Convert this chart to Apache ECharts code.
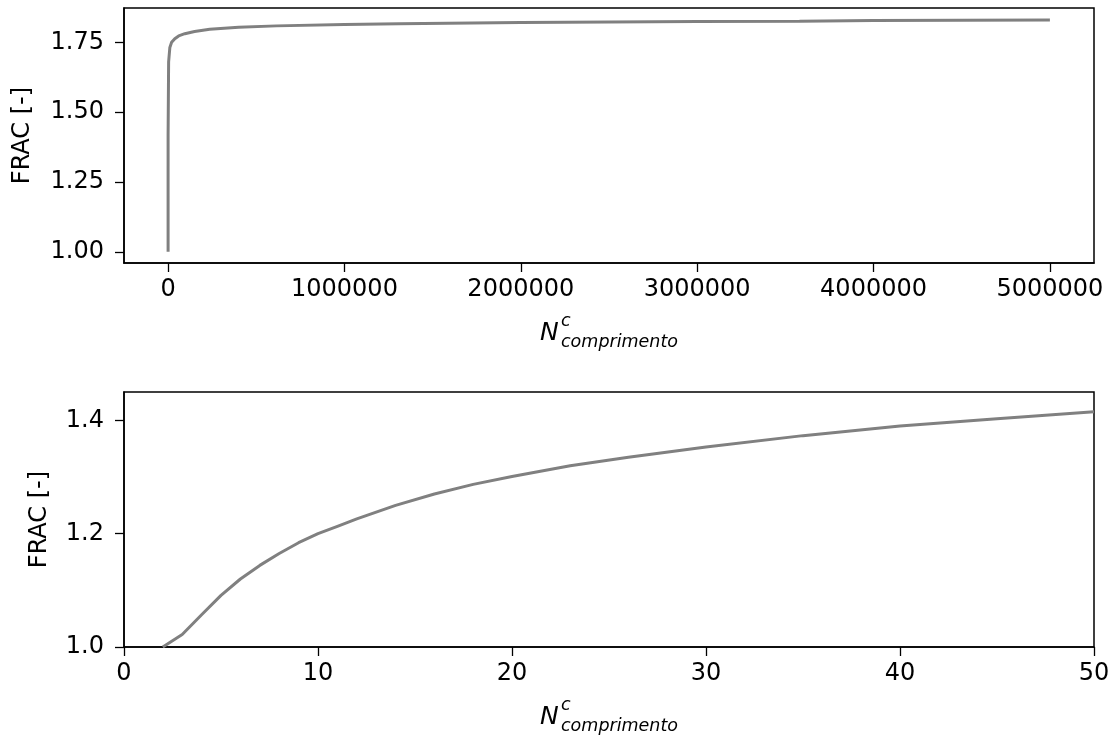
<!DOCTYPE html>
<html>
<head>
<meta charset="utf-8">
<script src="https://cdn.jsdelivr.net/npm/echarts@6/dist/echarts.min.js"></script>
<style>
  html, body { margin: 0; padding: 0; background: #fff; }
  #chart { width: 1113px; height: 735px; }
</style>
</head>
<body>
<div id="chart"></div>
<script>
// top panel: whole run, N from 0 to 5e6
const topN = [2, 10, 50, 3000, 10000, 20000, 38000, 60000, 95000, 150000, 236000, 400000, 614000, 1000000, 1310000, 2000000, 3000000, 3580000, 4000000, 5000000]
const topFrac = [1.0, 1.2, 1.415, 1.68, 1.732, 1.75, 1.763, 1.773, 1.781, 1.789, 1.797, 1.804, 1.809, 1.814, 1.817, 1.821, 1.825, 1.826, 1.828, 1.830]
const topXTicks = [0, 1000000, 2000000, 3000000, 4000000, 5000000]
const topYTicks = [1.0, 1.25, 1.5, 1.75]

// bottom panel: first 50 cycles
const botN = [2, 3, 4, 5, 6, 7, 8, 9, 10, 11, 12, 14, 16, 18, 20, 23, 26, 30, 35, 40, 45, 50]
const botFrac = [1.0, 1.022, 1.057, 1.091, 1.12, 1.144, 1.165, 1.184, 1.2, 1.213, 1.226, 1.25, 1.27, 1.287, 1.301, 1.32, 1.335, 1.353, 1.373, 1.39, 1.403, 1.415]
const botYTicks = [1.0, 1.2, 1.4]

const FONT = 'DejaVu Sans'
const LEFT = 124
const RIGHT = 19
const TOP1 = 8, H1 = 255
const TOP2 = 392, H2 = 255
const W = 1113 - LEFT - RIGHT

const chart = echarts.init(document.getElementById('chart'))

function xAxisBase(gridIndex) {
  return {
    type: 'value',
    gridIndex: gridIndex,
    splitLine: { show: false },
    axisLine: { show: true, onZero: false, lineStyle: { color: '#000', width: 1.5 } },
    axisTick: { show: true, length: 9, lineStyle: { color: '#000', width: 1.3 } },
    axisLabel: { color: '#000', fontFamily: FONT, fontSize: 24, margin: 15 }
  }
}
function yAxisBase(gridIndex) {
  return {
    type: 'value',
    gridIndex: gridIndex,
    splitLine: { show: false },
    axisLine: { show: true, onZero: false, lineStyle: { color: '#000', width: 1.5 } },
    axisTick: { show: true, length: 9, lineStyle: { color: '#000', width: 1.3 } },
    axisLabel: { color: '#000', fontFamily: FONT, fontSize: 24, margin: 20 },
    name: 'FRAC [-]',
    nameLocation: 'middle',
    nameTextStyle: { color: '#000', fontFamily: FONT, fontSize: 24 }
  }
}

// x label N^c_comprimento drawn as three texts
function xLabel(axisY) {
  const cx = LEFT + W / 2
  const nx = cx - 69
  const it = 'italic'
  return [
    { type: 'text', x: nx, y: axisY + 70, silent: true,
      style: { text: 'N', font: it + ' 25px "' + FONT + '"', fill: '#000', verticalAlign: 'middle' } },
    { type: 'text', x: nx + 21, y: axisY + 58, silent: true,
      style: { text: 'c', font: it + ' 17.5px "' + FONT + '"', fill: '#000', verticalAlign: 'middle' } },
    { type: 'text', x: nx + 21, y: axisY + 79, silent: true,
      style: { text: 'comprimento', font: it + ' 17.5px "' + FONT + '"', fill: '#000', verticalAlign: 'middle' } }
  ]
}

const x0 = xAxisBase(0)
x0.min = -250000
x0.max = 5250000
x0.axisTick.customValues = topXTicks
x0.axisLabel.customValues = topXTicks
x0.axisLabel.formatter = v => String(v)

const y0 = yAxisBase(0)
y0.min = 0.96
y0.max = 1.873
y0.axisTick.customValues = topYTicks
y0.axisLabel.customValues = topYTicks
y0.axisLabel.formatter = v => v.toFixed(2)
y0.nameGap = 89

const x1 = xAxisBase(1)
x1.min = 0
x1.max = 50
x1.interval = 10

const y1 = yAxisBase(1)
y1.min = 1.0
y1.max = 1.45
y1.axisTick.customValues = botYTicks
y1.axisLabel.customValues = botYTicks
y1.axisLabel.formatter = v => v.toFixed(1)
y1.nameGap = 72

chart.setOption({
  animation: false,
  backgroundColor: '#fff',
  grid: [
    { left: LEFT, right: RIGHT, top: TOP1, height: H1, show: true, borderColor: '#000', borderWidth: 1.5, outerBoundsMode: 'none' },
    { left: LEFT, right: RIGHT, top: TOP2, height: H2, show: true, borderColor: '#000', borderWidth: 1.5, outerBoundsMode: 'none' }
  ],
  xAxis: [x0, x1],
  yAxis: [y0, y1],
  graphic: xLabel(TOP1 + H1).concat(xLabel(TOP2 + H2)),
  series: [
    {
      type: 'line',
      xAxisIndex: 0,
      yAxisIndex: 0,
      data: topN.map((n, i) => [n, topFrac[i]]),
      showSymbol: false,
      smooth: false,
      clip: true,
      lineStyle: { color: '#808080', width: 3 }
    },
    {
      type: 'line',
      xAxisIndex: 1,
      yAxisIndex: 1,
      data: botN.map((n, i) => [n, botFrac[i]]),
      showSymbol: false,
      smooth: false,
      clip: true,
      lineStyle: { color: '#808080', width: 3 }
    }
  ]
})
</script>
</body>
</html>
